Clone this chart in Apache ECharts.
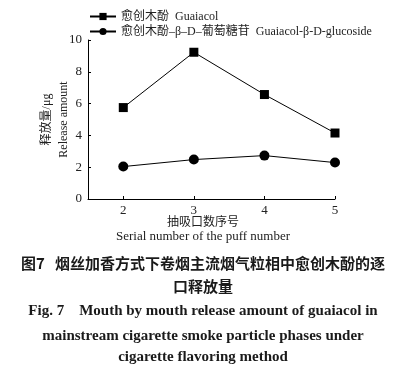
<!DOCTYPE html>
<html>
<head>
<meta charset="utf-8">
<script src="https://cdn.jsdelivr.net/npm/echarts@6/dist/echarts.min.js"></script>
<style>
  html, body { margin: 0; padding: 0; background: #fff; }
  #chart { width: 406px; height: 377px; }
</style>
</head>
<body>
<div id="chart"></div>
<script>
// puff numbers and release amounts (ug)
const puffs = [2, 3, 4, 5];
const guaiacol = [5.75, 9.23, 6.57, 4.15];
const glucoside = [2.04, 2.48, 2.73, 2.29];
const seriesNames = ['愈创木酚  Guaiacol', '愈创木酚–β–D–葡萄糖苷  Guaiacol-β-D-glucoside'];
const yTicks = [0, 2, 4, 6, 8, 10];

const serif = '"Liberation Serif", "Noto Sans CJK SC", serif';
const cjk = '"Noto Sans CJK SC", sans-serif';

let chart = echarts.init(document.getElementById('chart'));

function pairs(vals) {
  return puffs.map((p, i) => [p, vals[i]]);
}

let option = {
  backgroundColor: '#fff',
  animation: false,
  grid: { left: 88, right: 71, top: 40, bottom: 178 },
  legend: {
    orient: 'vertical',
    left: 84,
    top: 4,
    itemWidth: 26,
    itemHeight: 9,
    itemGap: 0,
    textStyle: { fontFamily: serif, fontSize: 12, color: '#222', lineHeight: 15 },
    data: seriesNames
  },
  xAxis: {
    type: 'value',
    min: 1.5,
    max: 5,
    axisLine: { lineStyle: { color: '#000', width: 1 } },
    axisTick: { inside: true, length: 3, lineStyle: { color: '#000' }, customValues: puffs },
    axisLabel: { customValues: puffs, margin: 5, fontFamily: serif, fontSize: 13, color: '#222' },
    splitLine: { show: false }
  },
  yAxis: {
    type: 'value',
    min: 0,
    max: 10,
    interval: 2,
    name: '释放量/μg\nRelease amount',
    nameLocation: 'middle',
    nameGap: 16,
    nameMoveOverlap: false,
    nameTextStyle: { fontFamily: serif, fontSize: 12, color: '#222', lineHeight: 17 },
    axisLine: { show: true, lineStyle: { color: '#000', width: 1 } },
    axisTick: { show: true, inside: true, length: 3, lineStyle: { color: '#000' } },
    axisLabel: { margin: 6, fontFamily: serif, fontSize: 13, color: '#222' },
    splitLine: { show: false }
  },
  series: [
    {
      name: seriesNames[0],
      type: 'line',
      data: pairs(guaiacol),
      symbol: 'rect',
      symbolSize: 9,
      itemStyle: { color: '#000' },
      lineStyle: { color: '#000', width: 1 }
    },
    {
      name: seriesNames[1],
      type: 'line',
      data: pairs(glucoside),
      symbol: 'circle',
      symbolSize: 10,
      itemStyle: { color: '#000' },
      lineStyle: { color: '#000', width: 1 }
    }
  ],
  graphic: [
    { type: 'text', left: 'center', top: 215, style: { text: '抽吸口数序号', font: '12px ' + cjk, fill: '#222' }, x: -8 },
    { type: 'text', left: 'center', top: 230, style: { text: 'Serial number of the puff number', font: '13px ' + serif, fill: '#222' } },
    { type: 'text', left: 'center', top: 256, style: { text: '图7   烟丝加香方式下卷烟主流烟气粒相中愈创木酚的逐', font: 'bold 15px ' + cjk, fill: '#1a1a1a' } },
    { type: 'text', left: 'center', top: 279, style: { text: '口释放量', font: 'bold 15px ' + cjk, fill: '#1a1a1a' } },
    { type: 'text', left: 'center', top: 304, style: { text: 'Fig. 7    Mouth by mouth release amount of guaiacol in', font: 'bold 15px ' + serif, fill: '#1a1a1a' } },
    { type: 'text', left: 'center', top: 329, style: { text: 'mainstream cigarette smoke particle phases under', font: 'bold 15px ' + serif, fill: '#1a1a1a' } },
    { type: 'text', left: 'center', top: 350, style: { text: 'cigarette flavoring method', font: 'bold 15px ' + serif, fill: '#1a1a1a' } }
  ]
};

chart.setOption(option);
</script>
</body>
</html>
